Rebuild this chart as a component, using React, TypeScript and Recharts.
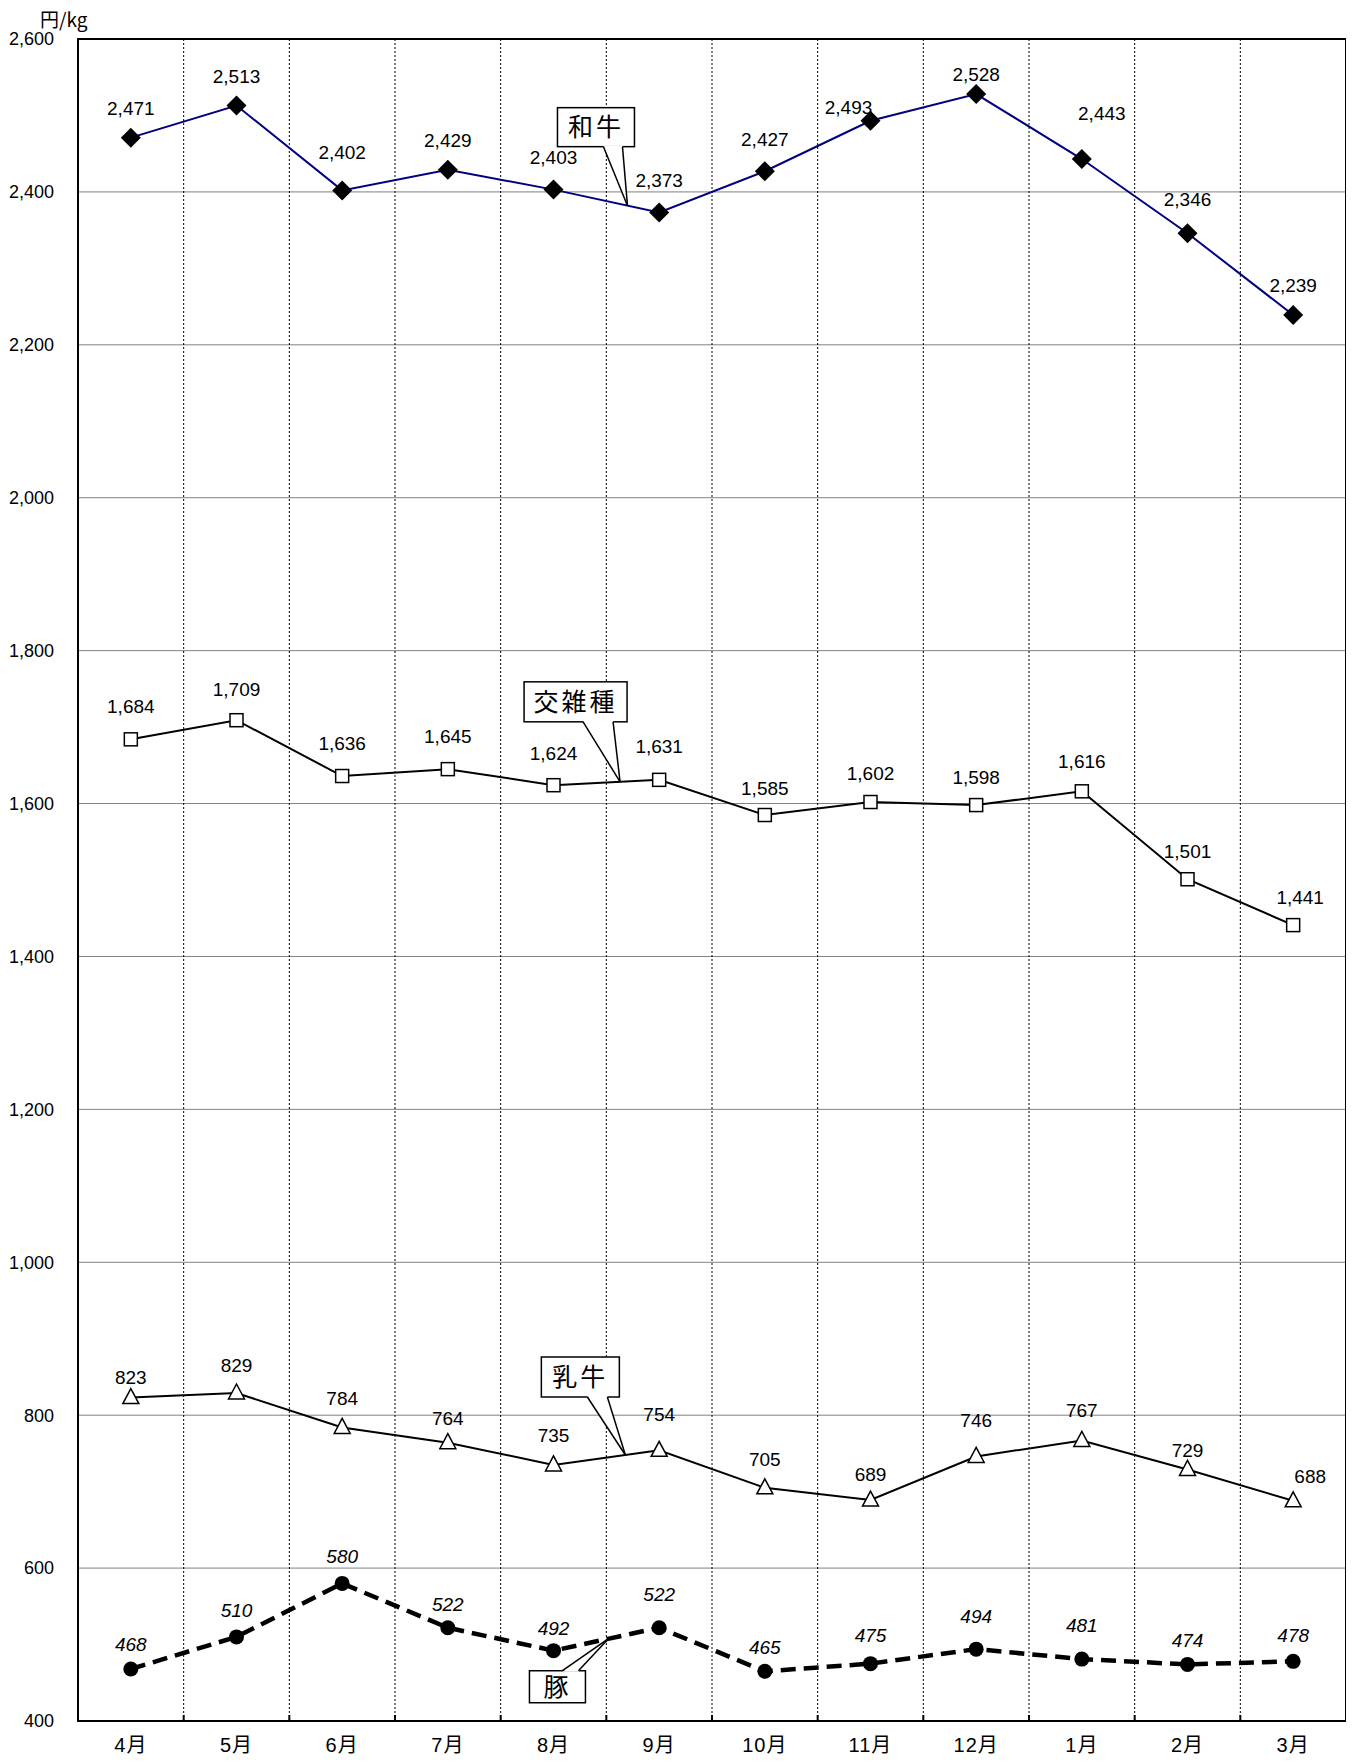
import React from 'react';
import { LineChart, Line, XAxis, YAxis, CartesianGrid } from 'recharts';

const months = ['4月', '5月', '6月', '7月', '8月', '9月', '10月', '11月', '12月', '1月', '2月', '3月'];
const wagyu = [2471, 2513, 2402, 2429, 2403, 2373, 2427, 2493, 2528, 2443, 2346, 2239];
const crossbred = [1684, 1709, 1636, 1645, 1624, 1631, 1585, 1602, 1598, 1616, 1501, 1441];
const dairy = [823, 829, 784, 764, 735, 754, 705, 689, 746, 767, 729, 688];
const pork = [468, 510, 580, 522, 492, 522, 465, 475, 494, 481, 474, 478];
const yTicks = [400, 600, 800, 1000, 1200, 1400, 1600, 1800, 2000, 2200, 2400, 2600];

// label nudges (px) so labels sit where the original put them
const wagyuLabelDy = [0, 0, -8, 0, -3, -3, -2, 16, 10, -16, -4, 0];
const wagyuLabelDx = [0, 0, 0, 0, 0, 0, 0, -22, 0, 20, 0, 0];
const crossLabelDy = [-2, 0, -2, -2, -1, -3, 4, 2, 3, 1, 3, 3];
const crossLabelDx = [0, 0, 0, 0, 0, 0, 0, 0, 0, 0, 0, 7];
const dairyLabelDy = [6, -1, -2, 2, -3, -9, -2, 1, -9, -3, 8, 2];
const dairyLabelDx = [0, 0, 0, 0, 0, 0, 0, 0, 0, 0, 0, 17];
const porkLabelDy = [1, -1, -1, 2, 3, -8, 2, -3, -7, -8, 2, 0];
const porkLabelDx = [0, 0, 0, 0, 0, 0, 0, 0, 0, 0, 0, 0];

const W = 1346;
const H = 1754;
const L = 70;
const T = 31;
const R = 1338;
const B = 1713;
const plotW = R - L;
const plotH = B - T;
const band = plotW / months.length;
const yMin = 400;
const yMax = 2600;

const FONT = '"Liberation Sans", "Noto Sans CJK JP", sans-serif';
const CJK = '"Noto Sans CJK JP", sans-serif';

const data = months.map((m, i) => ({
  month: m,
  wagyu: wagyu[i],
  crossbred: crossbred[i],
  dairy: dairy[i],
  pork: pork[i],
}));

// callouts: tip sits on the series at a fractional category index
const callouts = [
  { text: '和牛', series: wagyu, at: 4.7, box: [-70, -98, 77, 39], base: [46, 65], up: false },
  { text: '交雑種', series: crossbred, at: 4.63, box: [-96, -100, 103, 40], base: [59, 89], up: false },
  { text: '乳牛', series: dairy, at: 4.68, box: [-84, -98, 78, 40], base: [46, 66], up: false },
  { text: '豚', series: pork, at: 4.52, box: [-79, 32, 56, 32], base: [33, 49], up: true },
];

const xPx = (idx: number) => L + band * (idx + 0.5);
const yPx = (v: number) => T + ((yMax - v) / (yMax - yMin)) * plotH;

const fmt = (v: number) => v.toLocaleString('en-US');

const Diamond = (props: any) => {
  const { cx, cy, index } = props;
  const r = 10;
  return (
    <path
      key={`d${index}`}
      d={`M${cx},${cy - r}L${cx + r},${cy}L${cx},${cy + r}L${cx - r},${cy}Z`}
      fill="#000"
    />
  );
};

const Square = (props: any) => {
  const { cx, cy, index } = props;
  const s = 13;
  return (
    <rect key={`s${index}`} x={cx - s / 2} y={cy - s / 2} width={s} height={s} fill="#fff" stroke="#000" strokeWidth={1.5} />
  );
};

const Triangle = (props: any) => {
  const { cx, cy, index } = props;
  return (
    <path
      key={`t${index}`}
      d={`M${cx},${cy - 9}L${cx + 8},${cy + 6}L${cx - 8},${cy + 6}Z`}
      fill="#fff"
      stroke="#000"
      strokeWidth={1.5}
    />
  );
};

const Circle = (props: any) => {
  const { cx, cy, index } = props;
  return <circle key={`c${index}`} cx={cx} cy={cy} r={7.5} fill="#000" />;
};

const makeLabel = (dy: number, italic: boolean, nx: number[], ny: number[]) => (props: any) => {
  const { x, y, value, index } = props;
  return (
    <text
      key={`l${index}`}
      x={x + (nx[index] || 0)}
      y={y + dy + (ny[index] || 0)}
      textAnchor="middle"
      fontSize={19}
      fontFamily={FONT}
      fontStyle={italic ? 'italic' : 'normal'}
      fill="#000"
    >
      {fmt(value)}
    </text>
  );
};

const Callout = ({ c }: { c: (typeof callouts)[number] }) => {
  const i0 = Math.floor(c.at);
  const f = c.at - i0;
  const v = c.series[i0] + (c.series[i0 + 1] - c.series[i0]) * f;
  const tx = xPx(c.at);
  const ty = yPx(v);
  const [dx, dy, w, h] = c.box;
  const bx = tx + dx;
  const by = ty + dy;
  const edge = c.up ? by : by + h;
  const b0 = bx + c.base[0];
  const b1 = bx + c.base[1];
  const inset = c.up ? 1 : -1;
  return (
    <g>
      <rect x={bx} y={by} width={w} height={h} fill="#fff" stroke="#000" strokeWidth={1.5} />
      <polygon points={`${b0},${edge + inset} ${b1},${edge + inset} ${tx},${ty}`} fill="#fff" />
      <line x1={b0} y1={edge} x2={tx} y2={ty} stroke="#000" strokeWidth={1.5} />
      <line x1={b1} y1={edge} x2={tx} y2={ty} stroke="#000" strokeWidth={1.5} />
      <text
        x={bx + w / 2}
        y={by + h / 2 + 9}
        textAnchor="middle"
        fontSize={25}
        letterSpacing={3}
        fontFamily={CJK}
        fill="#000"
      >
        {c.text}
      </text>
    </g>
  );
};

const App: React.FC = () => {
  const boundaries = months.map((_, i) => i).slice(1);
  return (
    <div style={{ position: 'relative', width: W, height: H, background: '#fff' }}>
      <LineChart width={W} height={H} data={data} margin={{ top: T, right: W - R, bottom: 0, left: 0 }}>
        <CartesianGrid horizontal vertical={false} stroke="#808080" strokeWidth={1} />
        <CartesianGrid
          horizontal={false}
          vertical
          stroke="#000"
          strokeWidth={1}
          strokeDasharray="2 2"
          verticalCoordinatesGenerator={({ offset }: any) => {
            const left = offset && offset.left != null ? offset.left : L;
            const width = offset && offset.width != null ? offset.width : plotW;
            return boundaries.map((i) => left + (i * width) / months.length);
          }}
        />
        <XAxis
          dataKey="month"
          interval={0}
          height={H - B}
          padding={{ left: band / 2, right: band / 2 }}
          tickLine={false}
          tickSize={0}
          tickMargin={17}
          axisLine={{ stroke: '#000', strokeWidth: 2 }}
          tick={{ fontSize: 20, fill: '#000', fontFamily: FONT, letterSpacing: 1 }}
        />
        <YAxis
          type="number"
          domain={[yMin, yMax]}
          ticks={yTicks}
          width={L}
          interval={0}
          tickLine={false}
          tickSize={0}
          tickMargin={24}
          axisLine={{ stroke: '#000', strokeWidth: 2 }}
          tickFormatter={fmt}
          tick={{ fontSize: 18, fill: '#000', fontFamily: FONT }}
        />
        <Line
          dataKey="wagyu"
          stroke="#000080"
          strokeWidth={2}
          dot={Diamond}
          activeDot={false}
          label={makeLabel(-23, false, wagyuLabelDx, wagyuLabelDy)}
          isAnimationActive={false}
        />
        <Line
          dataKey="crossbred"
          stroke="#000"
          strokeWidth={2}
          dot={Square}
          activeDot={false}
          label={makeLabel(-24, false, crossLabelDx, crossLabelDy)}
          isAnimationActive={false}
        />
        <Line
          dataKey="dairy"
          stroke="#000"
          strokeWidth={2}
          dot={Triangle}
          activeDot={false}
          label={makeLabel(-20, false, dairyLabelDx, dairyLabelDy)}
          isAnimationActive={false}
        />
        <Line
          dataKey="pork"
          stroke="#000"
          strokeWidth={4.5}
          strokeDasharray="15 8"
          dot={Circle}
          activeDot={false}
          label={makeLabel(-19, true, porkLabelDx, porkLabelDy)}
          isAnimationActive={false}
        />
      </LineChart>
      <svg
        width={W}
        height={H}
        style={{ position: 'absolute', left: 0, top: 0, pointerEvents: 'none', overflow: 'visible' }}
      >
        <text x={32} y={19} fontSize={19} fontFamily={CJK} fill="#000">
          円/kg
        </text>
        <rect x={L} y={T} width={plotW} height={plotH} fill="none" stroke="#000" strokeWidth={2} />
        {boundaries.map((i) => (
          <line key={i} x1={L + i * band} x2={L + i * band} y1={B - 6} y2={B} stroke="#000" strokeWidth={2} />
        ))}
        {callouts.map((c) => (
          <Callout key={c.text} c={c} />
        ))}
      </svg>
    </div>
  );
};

export default App;
